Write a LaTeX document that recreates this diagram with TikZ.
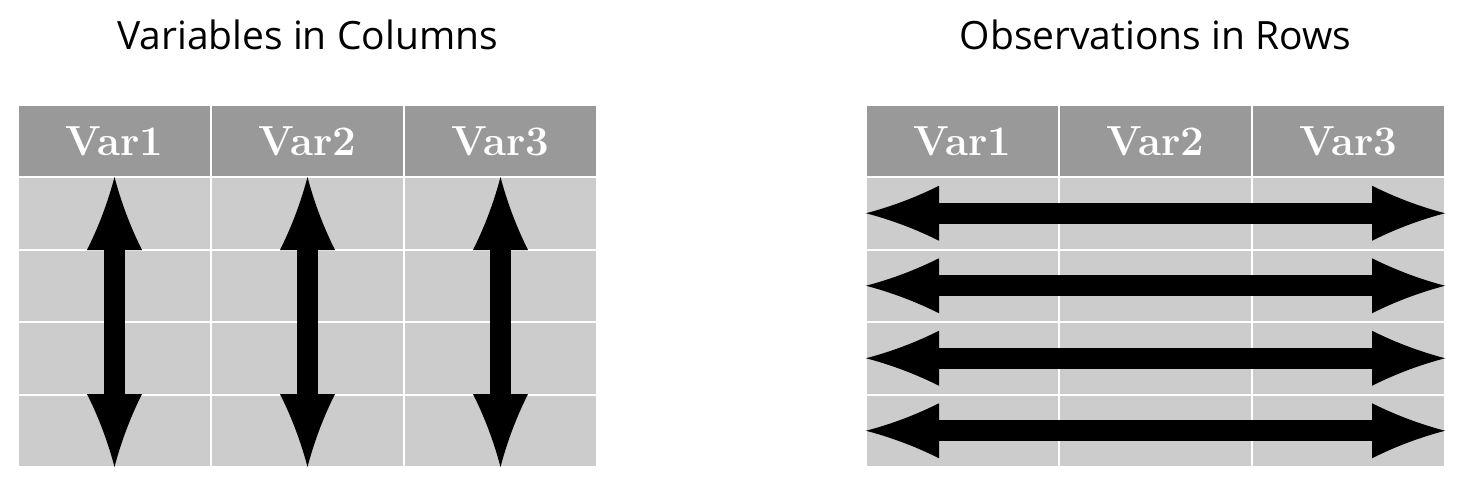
\documentclass[tikz,border=0pt]{standalone}
\usepackage{fontspec}
\newfontfamily\titlefont{Open Sans}
\usetikzlibrary{arrows.meta}
\definecolor{hdr}{HTML}{999999}
\definecolor{cellgray}{HTML}{CCCCCC}
\pgfdeclarearrow{
  name=Flare,
  setup code={
    \pgfarrowssettipend{0pt}
    \pgfarrowssetlineend{-70pt}
    \pgfarrowssetbackend{-73pt}
    \pgfarrowshullpoint{0pt}{0pt}
    \pgfarrowsupperhullpoint{-73pt}{27.5pt}
  },
  drawing code={
    \pgfpathmoveto{\pgfqpoint{0pt}{0pt}}
    \pgfpathquadraticcurveto{\pgfqpoint{-38pt}{10pt}}{\pgfqpoint{-73pt}{27.5pt}}
    \pgfpathlineto{\pgfqpoint{-73pt}{-27.5pt}}
    \pgfpathquadraticcurveto{\pgfqpoint{-38pt}{-10pt}}{\pgfqpoint{0pt}{0pt}}
    \pgfpathclose
    \pgfusepathqfill
  }
}
\begin{document}
\begin{tikzpicture}[x=1pt,y=-1pt,
  box/.style={draw=white,line width=2pt,inner sep=0pt,outer sep=0pt,minimum width=193pt},
  hcell/.style={box,fill=hdr,minimum height=72pt,text=white,font=\fontsize{42}{44}\selectfont\bfseries},
  bcell/.style={box,fill=cellgray,minimum height=72.5pt},
  title/.style={font=\titlefont\fontsize{39}{44}\selectfont},
  flow/.style={draw=black,fill=black,line width=21pt,{Flare}-{Flare}}]
\useasboundingbox (0,0) rectangle (1463,484);
\foreach \tb/\ox in {L/18,R/866}{
  \foreach \col in {1,2,3}{
    \node[hcell] (\tb-0-\col) at ({\ox+193*(\col-0.5)},141) {Var\col};
    \foreach \row in {1,...,4}
      \node[bcell] (\tb-\row-\col) at ({\ox+193*(\col-0.5)},{177+72.5*(\row-0.5)}) {};
  }
}
\node[title] (tl) at (307.5,35) {Variables in Columns};
\node[title] (tr) at (1155.5,35) {Observations in Rows};
\foreach \col in {1,2,3}
  \draw[flow] (L-1-\col.north) -- (L-4-\col.south);
\foreach \row in {1,...,4}
  \draw[flow] (R-\row-1.west) -- (R-\row-3.east);
\end{tikzpicture}
\end{document}
